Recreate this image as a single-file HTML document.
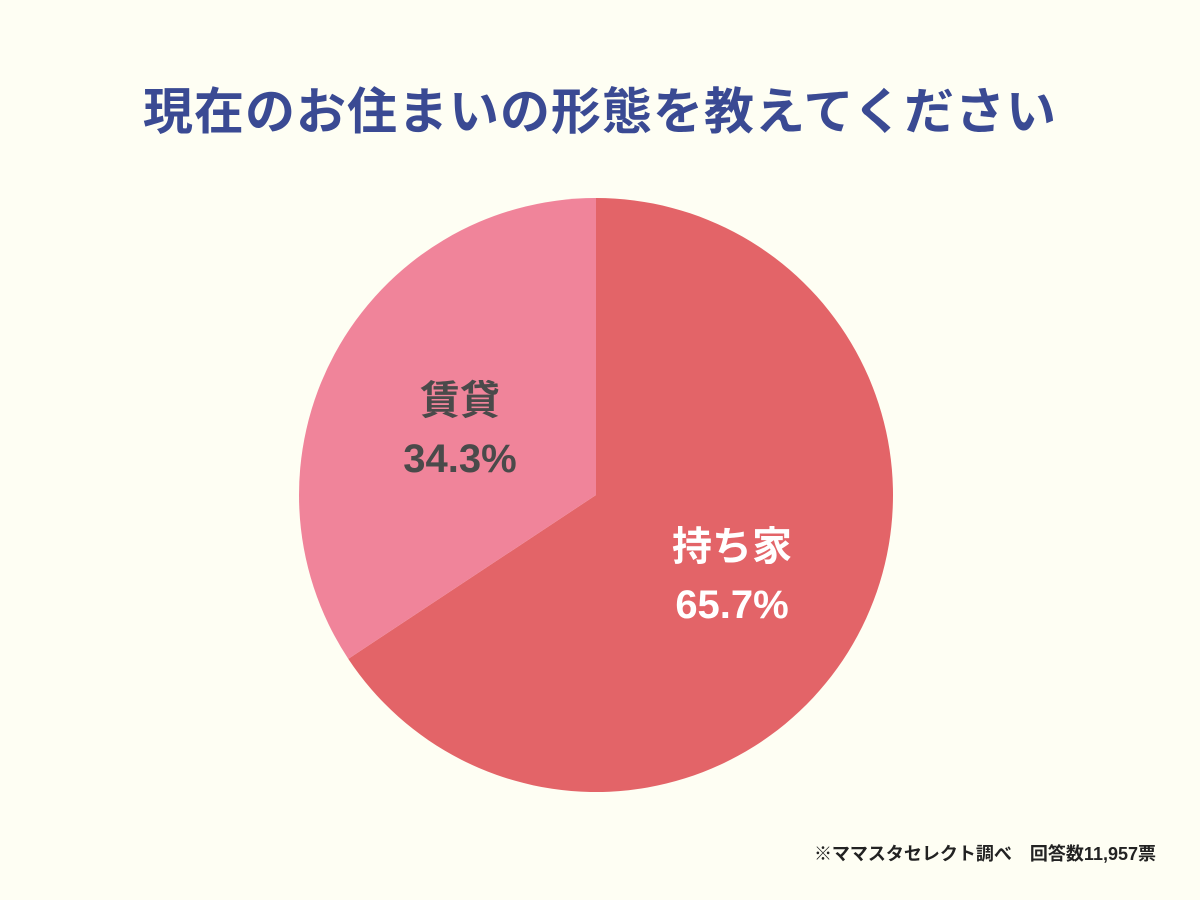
<!DOCTYPE html>
<html><head><meta charset="utf-8"><style>
html,body{margin:0;padding:0;background:#fefef3;}
body{width:1200px;height:900px;position:relative;overflow:hidden;font-family:"Liberation Sans","Noto Sans CJK JP",sans-serif;}
#title{position:absolute;left:0;width:1200px;top:72px;text-align:center;font-size:50px;font-weight:bold;color:#3a4a93;letter-spacing:1px;}
#note{position:absolute;right:44px;top:840px;font-size:18px;font-weight:bold;color:#222;}
svg{position:absolute;left:0;top:0;}
</style></head><body>
<div id="title">現在のお住まいの形態を教えてください</div>
<svg id="chart" width="1200" height="900"></svg>
<div id="note">※ママスタセレクト調べ　回答数11,957票</div>
<script>
const categories = ["持ち家", "賃貸"];
const values = [65.7, 34.3];
const valueLabels = ["65.7%", "34.3%"];
const colors = ["#e36468", "#f0849a"];
const textColors = ["#ffffff", "#4a4a4a"];
const svg = document.getElementById('chart');
const NS = 'http://www.w3.org/2000/svg';
const cx = 596, cy = 495, r = 297;
const total = values.reduce((a,b)=>a+b,0);
function pt(a, rr){ return [cx + rr*Math.sin(a), cy - rr*Math.cos(a)]; }
let start = 0;
values.forEach((v,i)=>{
  const ang = v/total*2*Math.PI;
  const end = start + ang;
  const [x1,y1] = pt(start, r), [x2,y2] = pt(end, r);
  const p = document.createElementNS(NS,'path');
  p.setAttribute('d', `M${cx},${cy} L${x1},${y1} A${r},${r} 0 ${ang>Math.PI?1:0} 1 ${x2},${y2} Z`);
  p.setAttribute('fill', colors[i]);
  
  
  svg.appendChild(p);
  const mid = start + ang/2;
  const [lx,ly] = pt(mid, r*0.52);
  [categories[i], valueLabels[i]].forEach((t,j)=>{
    const tx = document.createElementNS(NS,'text');
    tx.setAttribute('x', lx);
    tx.setAttribute('y', ly + (j===0 ? -8 : 50));
    tx.setAttribute('text-anchor','middle');
    tx.setAttribute('font-size','40');
    tx.setAttribute('font-weight','bold');
    tx.setAttribute('fill', textColors[i]);
    tx.setAttribute('font-family','"Liberation Sans","Noto Sans CJK JP",sans-serif');
    tx.textContent = t;
    
    
    svg.appendChild(tx);
  });
  start = end;
});
</script>
</body></html>
